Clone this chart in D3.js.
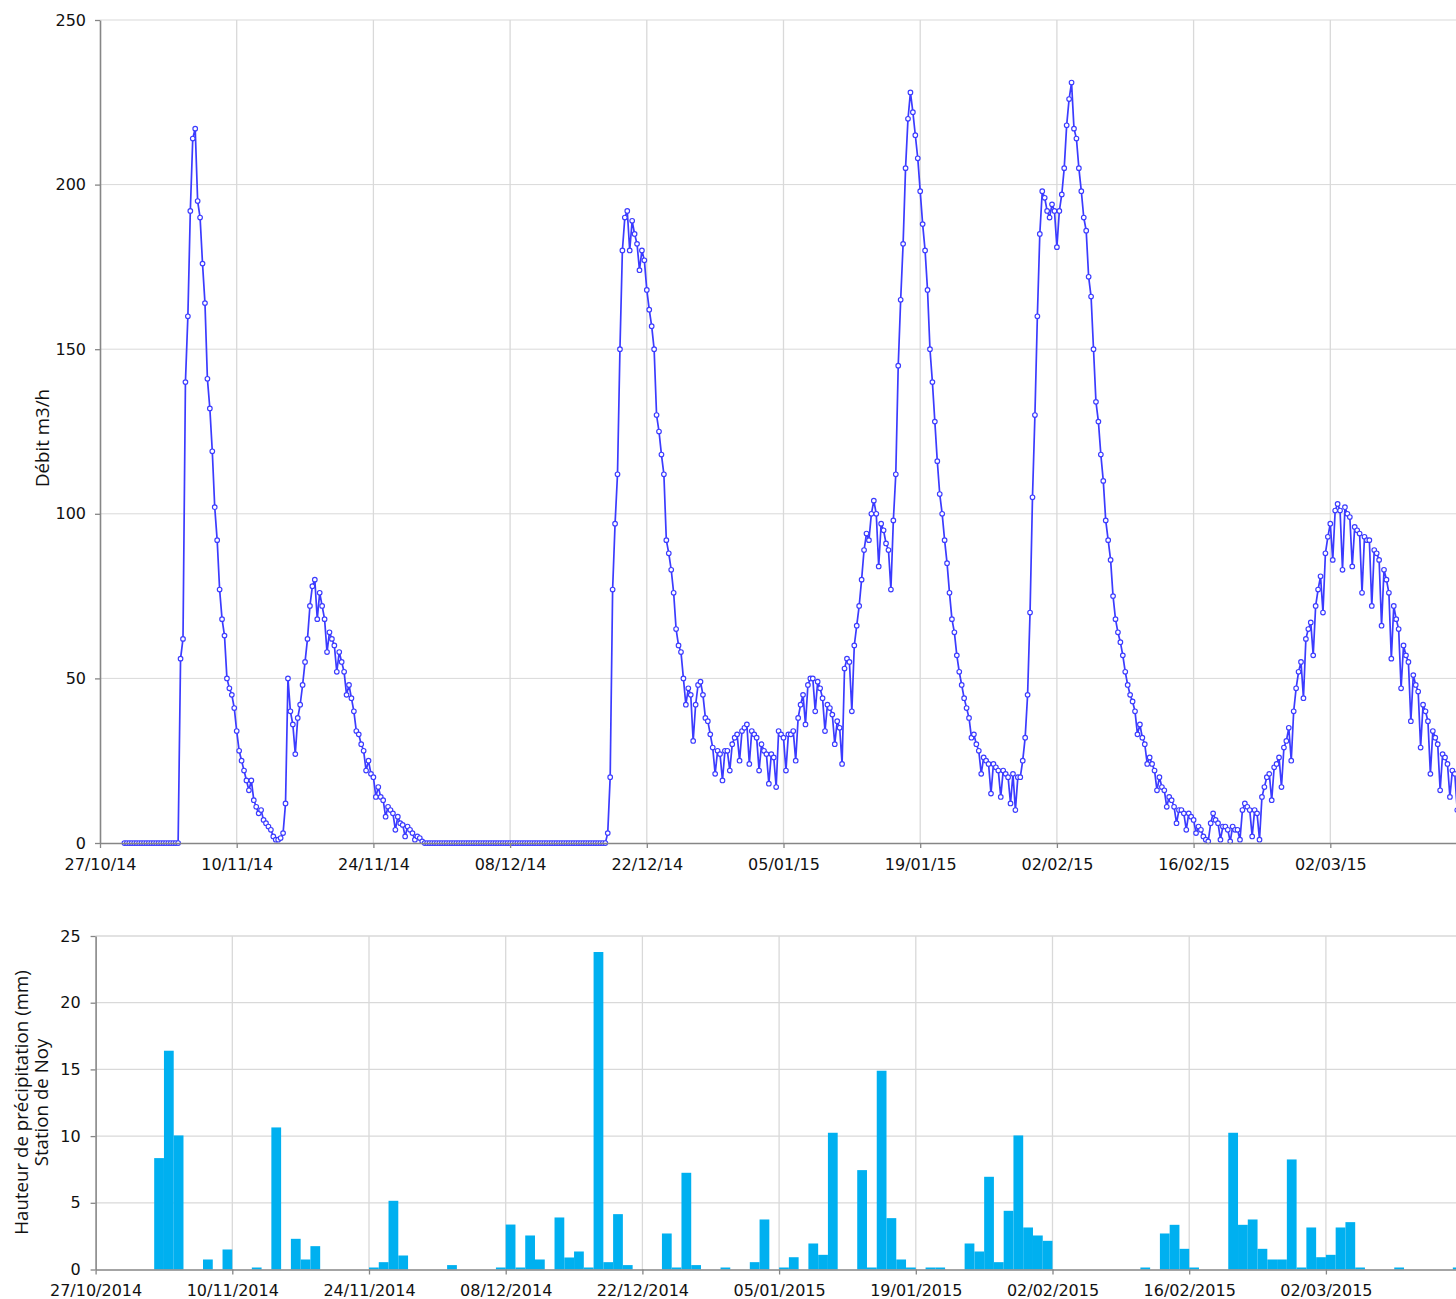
<!DOCTYPE html>
<html><head><meta charset="utf-8">
<script src="https://cdn.jsdelivr.net/npm/d3@7"></script>
<style>
body{margin:0;background:#fff}
svg text{font-family:"DejaVu Sans",Verdana,sans-serif;fill:#111}
svg text.title{font-family:"Open Sans","Noto Sans",sans-serif}
</style>
</head><body>
<svg id="c" width="1456" height="1299"></svg>
<script>
// ---------------- DATA ----------------
// Débit (m3/h), one reading every 6 hours
const flowOctStart = "2014-10-29T12:00";
const flowOct = [0,0,0,0,0,0,0,0,0,0];
const flowNovStart = "2014-11-01T00:00";
const flowNov = [
0,0,0,0, 0,0,0,0, 0,0,0,0, 0,56,62,140,
160,192,214,217, 195,190,176,164, 141,132,119,102, 92,77,68,63,
50,47,45,41, 34,28,25,22, 19,16,19,13, 11,9,10,7,
6,5,4,2, 1,1,1.5,3, 12,50,40,36, 27,38,42,48,
55,62,72,78, 80,68,76,72, 68,58,64,62, 60,52,58,55,
52,45,48,44, 40,34,33,30, 28,22,25,21, 20,14,17,14,
13,8,11,10, 9,4,8,6, 5.5,2,5,4, 3,1,2,1.5,
0.5,0,0,0, 0,0,0,0];
const flowDecStart = "2014-12-01T00:00";
const flowDec = [
0,0,0,0, 0,0,0,0, 0,0,0,0, 0,0,0,0, 0,0,0,0, 0,0,0,0,
0,0,0,0, 0,0,0,0, 0,0,0,0, 0,0,0,0, 0,0,0,0, 0,0,0,0,
0,0,0,0, 0,0,0,0, 0,0,0,0, 0,0,0,0, 0,0,0,0,
3,20,77,97, 112,150,180,190, 192,180,189,185, 182,174,180,177,
168,162,157,150, 130,125,118,112, 92,88,83,76, 65,60,58,50,
42,47,45,31, 42,48,49,45, 38,37,33,29, 21,28,27,19,
28,28,22,30, 32,33,25,34];
const flowJanStart = "2015-01-01T00:00";
const flowJan = [
35,36,24,34, 33,32,22,30, 28,27,18,27, 26,17,34,33,
32,22,33,33, 34,25,38,42, 45,36,48,50, 50,40,49,47,
44,34,42,41, 39,30,37,35, 24,53,56,55, 40,60,66,72,
80,89,94,92, 100,104,100,84, 97,95,91,89, 77,98,112,145,
165,182,205,220, 228,222,215,208, 198,188,180,168, 150,140,128,116,
106,100,92,85, 76,68,64,57, 52,48,44,41, 38,32,33,30,
28,21,26,25, 24,15,24,23, 22,14,22,21, 20,12,21,10,
20,20,25,32, 45,70,105,130, 160,185,198,196];
const flowFebStart = "2015-02-01T00:00";
const flowFeb = [
192,190,194,192, 181,192,197,205, 218,226,231,217, 214,205,198,190,
186,172,166,150, 134,128,118,110, 98,92,86,75, 68,64,61,57,
52,48,45,43, 40,33,36,32, 30,24,26,24, 22,16,20,17,
16,11,14,13, 11,6,10,10, 9,4,9,8, 7,3,5,4,
2,1,0.5,6, 9,7,6,1, 5,5,4,0.5, 5,4,4,1,
10,12,11,10, 2,10,9,1, 14,17,20,21, 13,23,24,26,
17,29,31,35, 25,40,47,52, 55,44,62,65, 67,57,72,77];
const flowMarStart = "2015-03-01T00:00";
const flowMar = [
81,70,88,93, 97,86,101,103, 101,83,102,100, 99,84,96,95,
94,76,93,92, 92,72,89,88, 86,66,83,80, 76,56,72,68,
65,47,60,57, 55,37,51,48, 46,29,42,40, 37,21,34,32,
30,16,27,26, 24,14,22,21, 10];

// Hauteur de précipitation (mm), Station de Noy, daily
const precipDates = ["02/11/2014","03/11/2014","04/11/2014","07/11/2014","09/11/2014","12/11/2014","14/11/2014","16/11/2014","17/11/2014","18/11/2014",
"24/11/2014","25/11/2014","26/11/2014","27/11/2014","02/12/2014","07/12/2014","08/12/2014","09/12/2014","10/12/2014","11/12/2014",
"13/12/2014","14/12/2014","15/12/2014","16/12/2014","17/12/2014","18/12/2014","19/12/2014","20/12/2014","24/12/2014","25/12/2014",
"26/12/2014","27/12/2014","30/12/2014","02/01/2015","03/01/2015","05/01/2015","06/01/2015","08/01/2015","09/01/2015","10/01/2015",
"13/01/2015","14/01/2015","15/01/2015","16/01/2015","17/01/2015","18/01/2015","20/01/2015","21/01/2015","24/01/2015","25/01/2015",
"26/01/2015","27/01/2015","28/01/2015","29/01/2015","30/01/2015","31/01/2015","01/02/2015","11/02/2015","13/02/2015","14/02/2015",
"15/02/2015","16/02/2015","20/02/2015","21/02/2015","22/02/2015","23/02/2015","24/02/2015","25/02/2015","26/02/2015","27/02/2015",
"28/02/2015","01/03/2015","02/03/2015","03/03/2015","04/03/2015","05/03/2015","09/03/2015","15/03/2015"];
const precipValues = [8.35,16.4,10.05,0.75,1.5,0.15,10.65,2.3,0.75,1.75,
0.15,0.55,5.15,1.05,0.33,0.15,3.37,0.15,2.55,0.75,
3.9,0.9,1.35,0.15,23.8,0.55,4.15,0.33,2.7,0.15,
7.25,0.33,0.15,0.55,3.75,0.15,0.92,1.95,1.1,10.25,
7.45,0.15,14.9,3.85,0.75,0.15,0.15,0.15,1.95,1.35,
6.95,0.55,4.4,10.05,3.15,2.55,2.15,0.15,2.7,3.35,
1.55,0.15,10.25,3.35,3.75,1.55,0.75,0.75,8.25,0.15,
3.15,0.92,1.1,3.15,3.55,0.15,0.15,0.15];

const topXTickLabels = ["27/10/14","10/11/14","24/11/14","08/12/14","22/12/14","05/01/15","19/01/15","02/02/15","16/02/15","02/03/15"];
const botXTickLabels = ["27/10/2014","10/11/2014","24/11/2014","08/12/2014","22/12/2014","05/01/2015","19/01/2015","02/02/2015","16/02/2015","02/03/2015"];
const topYTicks = [0,50,100,150,200,250];
const botYTicks = [0,5,10,15,20,25];

// ---------------- CHART ----------------
(function(){
const svg = d3.select("#c");
const W = 1456;
const DAY = 864e5;
const pxDay = 136.7/14;
const t0 = Date.UTC(2014,9,27);
const gridC = "#d9d9d9", axisC = "#868686", lineC = "#3b3bff", barC = "#00b0f0";
const fs = "16px", tfs = "18.7px";

const parseIso = d3.utcParse("%Y-%m-%dT%H:%M");
const flowSeries = [[flowOctStart,flowOct],[flowNovStart,flowNov],[flowDecStart,flowDec],
  [flowJanStart,flowJan],[flowFebStart,flowFeb],[flowMarStart,flowMar]];
const flow = [];
flowSeries.forEach(([s,arr])=>{
  const st = parseIso(s).getTime();
  arr.forEach((v,i)=>flow.push({date:new Date(st+i*6*3600e3), v}));
});

// Top chart
const tp = {x0:100, y0:20, y1:843};
const xT = d3.scaleUtc().domain([new Date(t0), new Date(t0+139*DAY)]).range([tp.x0, tp.x0+139*pxDay]);
const yT = d3.scaleLinear().domain([0,250]).range([tp.y1, tp.y0]);
const pTop = d3.utcParse("%d/%m/%y");
const topTickDates = topXTickLabels.map(pTop);

const gT = svg.append("g");
gT.selectAll(".hg").data(topYTicks.filter(d=>d>0)).join("line")
  .attr("x1",tp.x0).attr("x2",W).attr("y1",d=>yT(d)).attr("y2",d=>yT(d))
  .attr("stroke",gridC).attr("stroke-width",1);
gT.selectAll(".vg").data(topTickDates.slice(1)).join("line")
  .attr("x1",d=>xT(d)).attr("x2",d=>xT(d)).attr("y1",tp.y0).attr("y2",tp.y1)
  .attr("stroke",gridC).attr("stroke-width",1.3);

const line = d3.line().x(d=>xT(d.date)).y(d=>yT(d.v));
gT.append("path").datum(flow).attr("d",line).attr("fill","none")
  .attr("stroke",lineC).attr("stroke-width",1.7).attr("stroke-linejoin","round");
gT.selectAll("circle").data(flow).join("circle")
  .attr("cx",d=>xT(d.date)).attr("cy",d=>yT(d.v)).attr("r",2.3)
  .attr("fill","#fff").attr("stroke",lineC).attr("stroke-width",1.15);

const topFmt = d3.utcFormat("%d/%m/%y");
const axYT = gT.append("g").attr("transform",`translate(${tp.x0},0)`)
  .call(d3.axisLeft(yT).tickValues(topYTicks).tickSize(5).tickSizeOuter(0).tickPadding(9));
const axXT = gT.append("g").attr("transform",`translate(0,${tp.y1})`)
  .call(d3.axisBottom(xT).tickValues(topTickDates).tickFormat(topFmt).tickSize(5).tickSizeOuter(0).tickPadding(10.5));
[axYT,axXT].forEach(a=>{
  a.select(".domain").attr("stroke",axisC).attr("stroke-width",1.6);
  a.selectAll(".tick line").attr("stroke",axisC).attr("stroke-width",1.3);
  a.selectAll("text").style("font-size",fs).attr("fill","#111");
});
gT.append("text").attr("class","title").attr("transform",`translate(48.5,438) rotate(-90)`)
  .attr("text-anchor","middle").style("font-size",tfs).text("Débit m3/h");

// Bottom chart
const bp = {x0:95.6, y0:936, y1:1269.5};
const xB = d3.scaleUtc().domain([new Date(t0), new Date(t0+140*DAY)]).range([bp.x0, bp.x0+140*pxDay]);
const yB = d3.scaleLinear().domain([0,25]).range([bp.y1, bp.y0]);
const pBot = d3.utcParse("%d/%m/%Y");
const botTickDates = botXTickLabels.map(pBot);
const precip = precipDates.map((d,i)=>({date:pBot(d), v:precipValues[i]}));

const gB = svg.append("g");
gB.selectAll(".hg").data(botYTicks.filter(d=>d>0)).join("line")
  .attr("x1",bp.x0).attr("x2",W).attr("y1",d=>yB(d)).attr("y2",d=>yB(d))
  .attr("stroke",gridC).attr("stroke-width",1.3);
gB.selectAll(".vg").data(botTickDates.slice(1)).join("line")
  .attr("x1",d=>xB(d)).attr("x2",d=>xB(d)).attr("y1",bp.y0).attr("y2",bp.y1)
  .attr("stroke",gridC).attr("stroke-width",1.3);

gB.selectAll("rect").data(precip).join("rect")
  .attr("x",d=>xB(d.date)).attr("width",d=>xB(new Date(d.date.getTime()+DAY))-xB(d.date))
  .attr("y",d=>yB(d.v)).attr("height",d=>yB(0)-yB(d.v))
  .attr("fill",barC);

const botFmt = d3.utcFormat("%d/%m/%Y");
const axYB = gB.append("g").attr("transform",`translate(${bp.x0},0)`)
  .call(d3.axisLeft(yB).tickValues(botYTicks).tickSize(5).tickSizeOuter(0).tickPadding(10));
const axXB = gB.append("g").attr("transform",`translate(0,${bp.y1})`)
  .call(d3.axisBottom(xB).tickValues(botTickDates).tickFormat(botFmt).tickSize(5).tickSizeOuter(0).tickPadding(10));
[axYB,axXB].forEach(a=>{
  a.select(".domain").attr("stroke",axisC).attr("stroke-width",1.6);
  a.selectAll(".tick line").attr("stroke",axisC).attr("stroke-width",1.3);
  a.selectAll("text").style("font-size",fs).attr("fill","#111");
});
const yTitle = gB.append("text").attr("class","title").attr("transform",`translate(0,1102.5) rotate(-90)`)
  .attr("text-anchor","middle").style("font-size",tfs);
yTitle.append("tspan").attr("x",0).attr("y",27.5).text("Hauteur de précipitation (mm)");
yTitle.append("tspan").attr("x",0).attr("y",48).text("Station de Noy");
})();
</script>
</body></html>
